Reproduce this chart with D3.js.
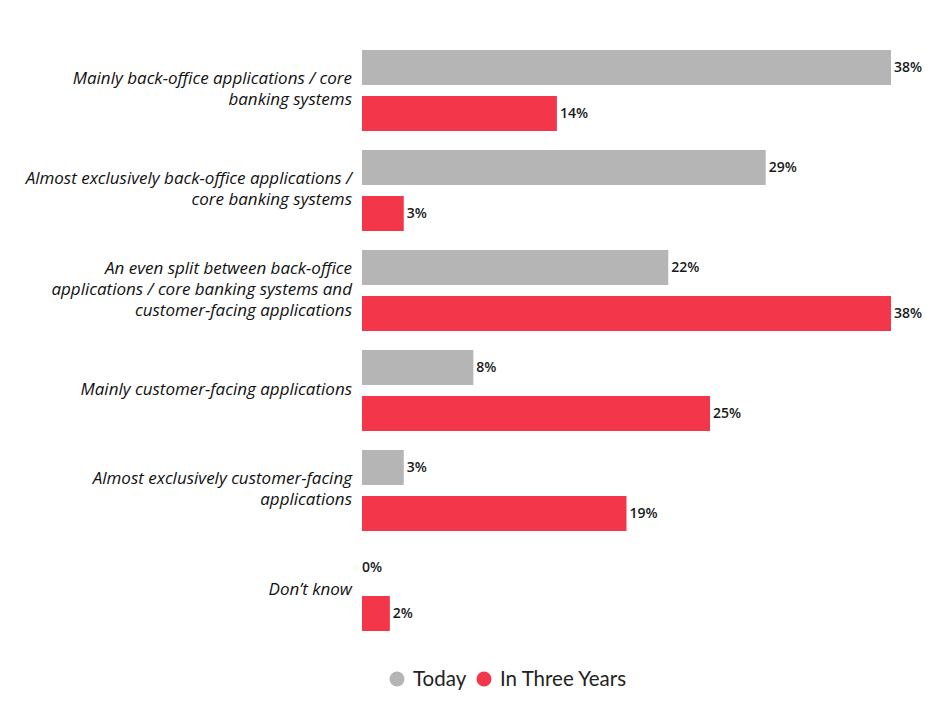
<!DOCTYPE html>
<html>
<head>
<meta charset="utf-8">
<script src="https://cdn.jsdelivr.net/npm/d3@7/dist/d3.min.js"></script>
<style>
  html, body { margin: 0; padding: 0; background: #ffffff; }
  svg { display: block; }
  .cat { font-family: "Open Sans", Lato, sans-serif; font-style: italic; font-size: 17px; fill: #111; }
  .val { font-family: "Open Sans", Lato, sans-serif; font-size: 14px; font-weight: 600; fill: #1a1a1a; }
  .leg { font-family: Lato, "Open Sans", sans-serif; font-size: 20.5px; fill: #222; }
</style>
</head>
<body>
<script>
// Survey answers, one group per answer, two series each
const categories = [
  ["Mainly back-office applications / core", "banking systems"],
  ["Almost exclusively back-office applications /", "core banking systems"],
  ["An even split between back-office", "applications / core banking systems and", "customer-facing applications"],
  ["Mainly customer-facing applications"],
  ["Almost exclusively customer-facing", "applications"],
  ["Don\u2019t know"]
];
const seriesNames = ["Today", "In Three Years"];
const todayValues = [38, 29, 22, 8, 3, 0];
const threeYearValues = [14, 3, 38, 25, 19, 2];
const seriesColors = ["#b5b5b5", "#f4364a"];

const width = 944, height = 710;
const svg = d3.select("body").append("svg").attr("width", width).attr("height", height);

const keys = categories.map((c, i) => i);
const rows = keys.map(i => ({ idx: i, lines: categories[i], values: [todayValues[i], threeYearValues[i]] }));

const x = d3.scaleLinear().domain([0, 38]).range([362, 891]);
const y = d3.scaleBand().domain(keys).range([40, 640]).padding(0);
const ySub = d3.scaleBand().domain([0, 1]).range([10, 91]).paddingInner(0.24).paddingOuter(0);

const groups = svg.selectAll("g.grp").data(rows).join("g")
  .attr("class", "grp")
  .attr("transform", d => `translate(0,${y(d.idx)})`);

// bars
groups.selectAll("rect").data(d => d.values.map((v, s) => ({ v, s }))).join("rect")
  .attr("x", x(0))
  .attr("y", d => ySub(d.s))
  .attr("width", d => x(d.v) - x(0))
  .attr("height", ySub.bandwidth())
  .attr("fill", d => seriesColors[d.s]);

// value labels at bar ends
groups.selectAll("text.val").data(d => d.values.map((v, s) => ({ v, s }))).join("text")
  .attr("class", "val")
  .attr("x", d => x(d.v) + (d.v > 0 ? 3 : 0))
  .attr("y", d => ySub(d.s) + ySub.bandwidth() / 2)
  .attr("dy", "0.35em")
  .text(d => d.v + "%");

// category labels, right-aligned, centred on the group
const lineH = 21;
groups.each(function (d) {
  const g = d3.select(this);
  const n = d.lines.length;
  const cy = y.bandwidth() / 2;
  const t = g.append("text").attr("class", "cat").attr("text-anchor", "end");
  d.lines.forEach((ln, i) => {
    t.append("tspan")
      .attr("x", 352)
      .attr("y", cy + (i - (n - 1) / 2) * lineH - 1)
      .attr("dy", "0.35em")
      .text(ln);
  });
});

// legend
const legend = svg.append("g").attr("transform", "translate(0,679)");
const legX = [397, 484];
seriesNames.forEach((name, i) => {
  legend.append("circle").attr("cx", legX[i]).attr("cy", 0).attr("r", 7.5).attr("fill", seriesColors[i]);
  legend.append("text").attr("class", "leg").attr("x", legX[i] + 16).attr("y", 0).attr("dy", "0.35em").text(name);
});
</script>
</body>
</html>
